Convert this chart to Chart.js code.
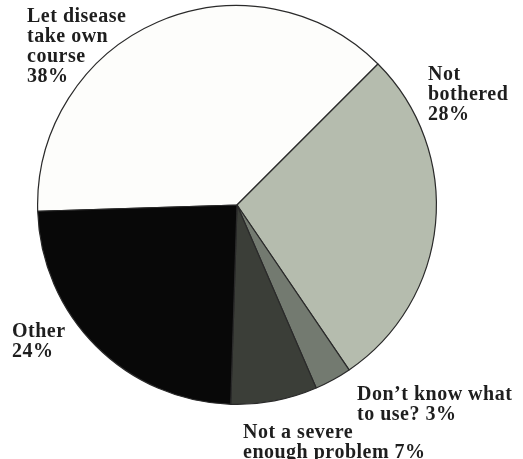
<!DOCTYPE html>
<html>
<head>
<meta charset="utf-8">
<script src="https://cdn.jsdelivr.net/npm/chart.js@4"></script>
<style>
  html, body { margin: 0; padding: 0; background: #fff; }
  #wrap { width: 523px; height: 459px; position: relative; }
</style>
</head>
<body>
<div id="wrap"><canvas id="pie"></canvas></div>
<script>
// data
const categories = ['Let disease take own course', 'Not bothered', 'Don’t know what to use?', 'Not a severe enough problem', 'Other'];
const shares = [38, 28, 3, 7, 24];
const sliceColors = ['#fdfdfb', '#b5bcae', '#737a70', '#3b3e38', '#080808'];

// how each label is broken into lines, {v} = the share
const labelLines = [
  ['Let disease', 'take own', 'course', '{v}%'],
  ['Not', 'bothered', '{v}%'],
  ['Don’t know what', 'to use? {v}%'],
  ['Not a severe', 'enough problem {v}%'],
  ['Other', '{v}%']
];
// where the label text sits (first baseline), page pixels
const labelSpots = [
  { x: 27, y: 22 },
  { x: 428, y: 80 },
  { x: 357, y: 400 },
  { x: 243, y: 438 },
  { x: 12, y: 337 }
];

const labelPlugin = {
  id: 'sideLabels',
  afterDraw(chart) {
    const ctx = chart.ctx;
    const ds = chart.data.datasets[0];
    ctx.save();
    ctx.fillStyle = '#1e1e1e';
    ctx.font = 'bold 20px "Liberation Serif"';
    ctx.textBaseline = 'alphabetic';
    ctx.textAlign = 'left';
    if ('letterSpacing' in ctx) ctx.letterSpacing = '0.5px';
    labelLines.forEach((lines, i) => {
      const spot = labelSpots[i];
      lines.forEach((ln, j) => {
        ctx.fillText(ln.replace('{v}', ds.data[i]), spot.x, spot.y + j * 20);
      });
    });
    ctx.restore();
  }
};

new Chart(document.getElementById('pie'), {
  type: 'pie',
  data: {
    labels: categories,
    datasets: [{
      data: shares,
      backgroundColor: sliceColors,
      borderColor: '#2a2a2a',
      borderWidth: 1.2
    }]
  },
  options: {
    responsive: true,
    maintainAspectRatio: false,
    animation: false,
    rotation: -91.8,
    layout: { padding: { left: 0, right: 49, top: 5, bottom: 54 } },
    plugins: {
      legend: { display: false },
      tooltip: { enabled: false }
    }
  },
  plugins: [labelPlugin]
});
</script>
</body>
</html>
